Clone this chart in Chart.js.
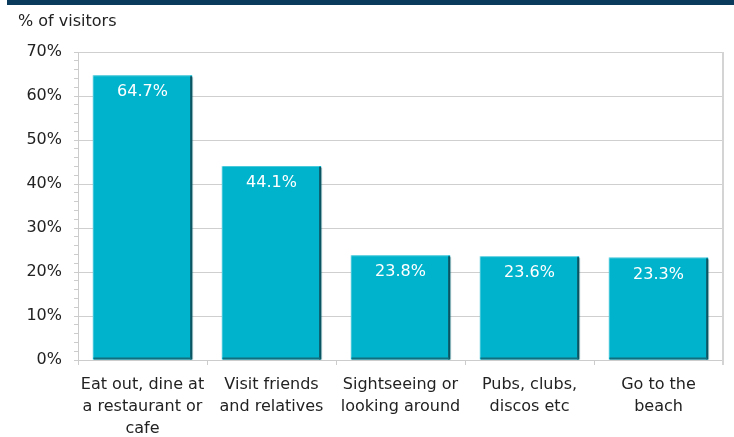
<!DOCTYPE html>
<html>
<head>
<meta charset="utf-8">
<script src="https://cdn.jsdelivr.net/npm/chart.js@4"></script>
<style>
  html, body { margin: 0; padding: 0; background: #fff; }
  #wrap { width: 734px; height: 437px; position: relative; }
</style>
</head>
<body>
<div id="wrap"><canvas id="myChart"></canvas></div>
<script>
const categories = [
  ['Eat out, dine at', 'a restaurant or', 'cafe'],
  ['Visit friends', 'and relatives'],
  ['Sightseeing or', 'looking around'],
  ['Pubs, clubs,', 'discos etc'],
  ['Go to the', 'beach']
];
const visitors = [64.7, 44.1, 23.8, 23.6, 23.3];
const yTicks = [0, 10, 20, 30, 40, 50, 60, 70];

const FONT = "'DejaVu Sans', Verdana, sans-serif";

// navy rule at the top, axis caption and the plot frame on the right
const decor = {
  id: 'decor',
  beforeDraw(chart) {
    const c = chart.ctx;
    c.save();
    c.fillStyle = '#0b3b5c';
    c.fillRect(7, 0, chart.width - 7, 5);
    c.fillStyle = '#222';
    c.font = '16px ' + FONT;
    c.textBaseline = 'middle';
    c.fillText('% of visitors', 18, 22);
    c.restore();
  },
  afterDraw(chart) {
    const a = chart.chartArea, c = chart.ctx;
    c.save();
    c.strokeStyle = '#d4d4d4';
    c.lineWidth = 2;
    c.beginPath();
    c.moveTo(a.right, a.top);
    c.lineTo(a.right, a.bottom + 5);
    c.stroke();
    c.restore();
  }
};

// bevel: dark strip on the right and bottom edge of every bar
const barBevel = {
  id: 'barBevel',
  afterDatasetDraw(chart) {
    const c = chart.ctx;
    c.save();
    chart.getDatasetMeta(0).data.forEach(bar => {
      const { x, y, base, width } = bar.getProps(['x', 'y', 'base', 'width'], true);
      const l = x - width / 2, r = x + width / 2;
      c.fillStyle = '#0b5461';
      c.fillRect(r - 2, y + 1, 2, base - y - 1);
      c.fillStyle = '#126e7d';
      c.fillRect(l + 1, base - 2, width - 2, 2);
      c.fillStyle = 'rgba(0,60,70,0.3)';
      c.fillRect(r, y + 2, 1, base - y - 2);
      c.fillStyle = 'rgba(255,255,255,0.3)';
      c.fillRect(l, y, width - 2, 1);
      c.fillRect(l, y, 1, base - y - 2);
    });
    c.restore();
  }
};

// value labels inside the top of each bar
const valueLabels = {
  id: 'valueLabels',
  afterDatasetsDraw(chart) {
    const c = chart.ctx;
    const meta = chart.getDatasetMeta(0);
    c.save();
    c.fillStyle = '#ffffff';
    c.font = '16px ' + FONT;
    c.textAlign = 'center';
    c.textBaseline = 'middle';
    meta.data.forEach((bar, i) => {
      c.fillText(visitors[i].toFixed(1) + '%', bar.x, bar.y + 17);
    });
    c.restore();
  }
};

const ctx = document.getElementById('myChart').getContext('2d');

new Chart(ctx, {
  type: 'bar',
  data: {
    labels: categories,
    datasets: [{
      data: visitors,
      backgroundColor: '#00b3cc',
      borderWidth: 0,
      barPercentage: 0.77,
      categoryPercentage: 1
    }]
  },
  options: {
    responsive: true,
    maintainAspectRatio: false,
    animation: false,
    layout: { padding: { top: 52, right: 11, left: 0, bottom: 0 } },
    plugins: {
      legend: { display: false },
      tooltip: { enabled: false }
    },
    scales: {
      y: {
        min: 0,
        max: 70,
        afterFit(scale) { scale.width = 78; },
        afterBuildTicks(scale) {
          const t = [];
          for (let v = 0; v <= 70; v += 2) t.push({ value: v });
          scale.ticks = t;
        },
        ticks: {
          autoSkip: false,
          color: '#222',
          font: { family: FONT, size: 16 },
          padding: 12,
          callback: v => yTicks.includes(v) ? v + '%' : ''
        },
        grid: {
          color: c => c.tick && c.tick.value % 10 === 0 ? '#cfcfcf' : 'transparent',
          tickColor: '#cccccc',
          tickLength: 4,
          lineWidth: 1
        },
        border: { color: '#cccccc', width: 1 }
      },
      x: {
        afterFit(scale) { scale.height = 77; },
        ticks: {
          color: '#222',
          font: { family: FONT, size: 16, lineHeight: 1.375 },
          padding: 9,
          maxRotation: 0
        },
        grid: {
          offset: true,
          drawOnChartArea: false,
          tickColor: '#cccccc',
          tickLength: 5
        },
        border: { color: '#cccccc', width: 1 }
      }
    }
  },
  plugins: [decor, barBevel, valueLabels]
});
</script>
</body>
</html>
